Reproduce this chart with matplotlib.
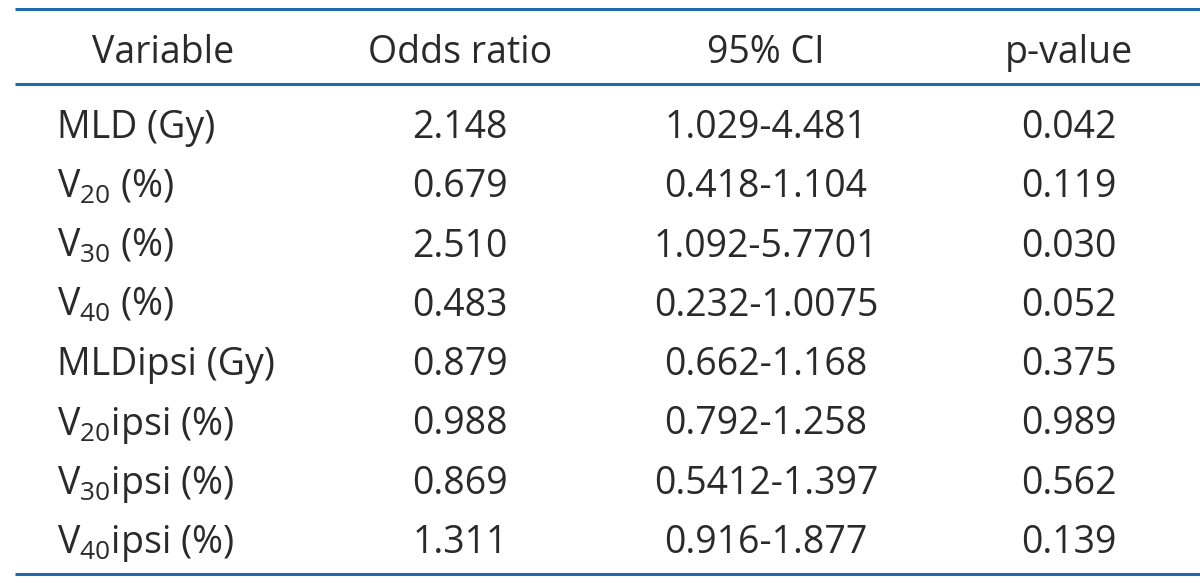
import matplotlib.pyplot as plt

plt.rcParams['font.family'] = ['Open Sans', 'DejaVu Sans']
plt.rcParams['mathtext.fontset'] = 'custom'
plt.rcParams['mathtext.rm'] = 'Open Sans'

headers = ["Variable", "Odds ratio", "95% CI", "p-value"]
variables = [r"MLD (Gy)", r"$\mathregular{V_{20}}$ (%)", r"$\mathregular{V_{30}}$ (%)",
             r"$\mathregular{V_{40}}$ (%)", r"MLDipsi (Gy)", r"$\mathregular{V_{20}}$ipsi (%)",
             r"$\mathregular{V_{30}}$ipsi (%)", r"$\mathregular{V_{40}}$ipsi (%)"]
odds = ["2.148", "0.679", "2.510", "0.483", "0.879", "0.988", "0.869", "1.311"]
ci = ["1.029-4.481", "0.418-1.104", "1.092-5.7701", "0.232-1.0075",
      "0.662-1.168", "0.792-1.258", "0.5412-1.397", "0.916-1.877"]
pvals = ["0.042", "0.119", "0.030", "0.052", "0.375", "0.989", "0.562", "0.139"]

line_color = "#1f6aad"
text_color = "#2a2a2a"
fs = 27

fig = plt.figure(figsize=(12, 5.83), dpi=100)
ax = fig.add_axes([0, 0, 1, 1])
ax.set_xlim(0, 1200)
ax.set_ylim(583, 0)
ax.axis("off")

for y in (9, 84, 574):
    ax.plot([15, 1200], [y, y], color=line_color, lw=2.2, solid_capstyle="butt")

col_x = [163, 460, 766, 1069]
for x, h in zip(col_x, headers):
    ax.text(x, 63, h, ha="center", va="baseline", fontsize=fs, color=text_color)

row_y0 = 138
row_h = 59.3
for i in range(len(variables)):
    y = row_y0 + i * row_h
    ax.text(57, y, variables[i], ha="left", va="baseline", fontsize=fs, color=text_color)
    ax.text(col_x[1], y, odds[i], ha="center", va="baseline", fontsize=fs, color=text_color)
    ax.text(col_x[2], y, ci[i], ha="center", va="baseline", fontsize=fs, color=text_color)
    ax.text(col_x[3], y, pvals[i], ha="center", va="baseline", fontsize=fs, color=text_color)

fig.savefig("out.png", dpi=100)
